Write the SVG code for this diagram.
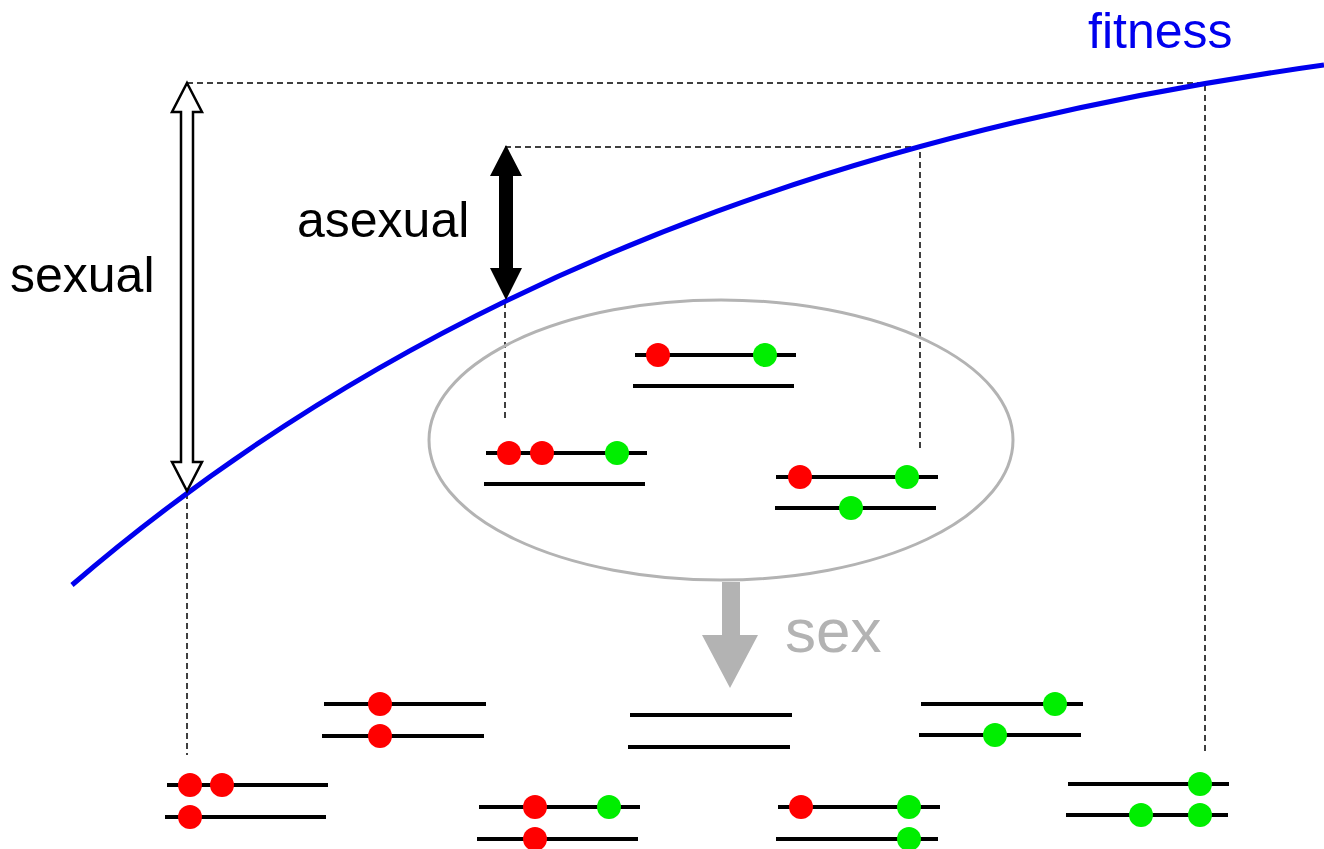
<svg xmlns="http://www.w3.org/2000/svg" width="1324" height="849" viewBox="0 0 1324 849">
<style>
.lbl{font-family:"Liberation Sans",Arial,sans-serif;font-size:50px}
.dash{fill:none;stroke:#000;stroke-width:1.5;stroke-dasharray:6 4}
.chr{stroke:#000;stroke-width:4;fill:none}
.r{fill:#ff0000}
.g{fill:#00ee00}
</style>
<rect width="1324" height="849" fill="#fff"/>
<g id="connectors">
<path class="dash" d="M187,83 H1205 V752"/>
<path class="dash" d="M187,493 V755"/>
<path class="dash" d="M505,147 H920 V450"/>
<path class="dash" d="M505,302 V420"/>
</g>
<g id="fitness-curve">
<path d="M72,585 C482,232 964,115 1324,65" fill="none" stroke="#0000ee" stroke-width="5"/>
<text class="lbl" x="1088" y="48" fill="#0000ee">fitness</text>
</g>
<g id="sexual-arrow">
<path d="M187,83 L202,112 L193,112 L193,462 L202,462 L187,491 L172,462 L181,462 L181,112 L172,112 Z" fill="#fff" stroke="#000" stroke-width="2.5" stroke-linejoin="miter"/>
<text class="lbl" x="10" y="292" fill="#000">sexual</text>
</g>
<g id="asexual-arrow">
<path d="M506,145 L522,176 L513,176 L513,268 L522,268 L506,300 L490,268 L499,268 L499,176 L490,176 Z" fill="#000"/>
<text class="lbl" x="297" y="237" fill="#000">asexual</text>
</g>
<g id="population">
<ellipse cx="721" cy="440" rx="292" ry="140" fill="none" stroke="#b3b3b3" stroke-width="3"/>
</g>
<g id="pair-a">
<line class="chr" x1="635" y1="355" x2="796" y2="355"/>
<line class="chr" x1="633" y1="386" x2="794" y2="386"/>
<circle class="r" cx="658" cy="355" r="12"/>
<circle class="g" cx="765" cy="355" r="12"/>
</g>
<g id="pair-b">
<line class="chr" x1="486" y1="453" x2="647" y2="453"/>
<line class="chr" x1="484" y1="484" x2="645" y2="484"/>
<circle class="r" cx="509" cy="453" r="12"/>
<circle class="r" cx="542" cy="453" r="12"/>
<circle class="g" cx="617" cy="453" r="12"/>
</g>
<g id="pair-c">
<line class="chr" x1="776" y1="477" x2="938" y2="477"/>
<line class="chr" x1="775" y1="508" x2="936" y2="508"/>
<circle class="r" cx="800" cy="477" r="12"/>
<circle class="g" cx="907" cy="477" r="12"/>
<circle class="g" cx="851" cy="508" r="12"/>
</g>
<g id="sex-arrow">
<path d="M722,582 H740 V635 H758 L730,688 L702,635 H722 Z" fill="#b3b3b3"/>
<text class="lbl" x="785" y="652" fill="#b3b3b3" style="font-size:62px">sex</text>
</g>
<g id="pair-d">
<line class="chr" x1="324" y1="704" x2="486" y2="704"/>
<line class="chr" x1="322" y1="736" x2="484" y2="736"/>
<circle class="r" cx="380" cy="704" r="12"/>
<circle class="r" cx="380" cy="736" r="12"/>
</g>
<g id="pair-e">
<line class="chr" x1="167" y1="785" x2="328" y2="785"/>
<line class="chr" x1="165" y1="817" x2="326" y2="817"/>
<circle class="r" cx="190" cy="785" r="12"/>
<circle class="r" cx="222" cy="785" r="12"/>
<circle class="r" cx="190" cy="817" r="12"/>
</g>
<g id="pair-f">
<line class="chr" x1="479" y1="807" x2="640" y2="807"/>
<line class="chr" x1="477" y1="839" x2="638" y2="839"/>
<circle class="r" cx="535" cy="807" r="12"/>
<circle class="g" cx="609" cy="807" r="12"/>
<circle class="r" cx="535" cy="839" r="12"/>
</g>
<g id="pair-g">
<line class="chr" x1="630" y1="715" x2="792" y2="715"/>
<line class="chr" x1="628" y1="747" x2="790" y2="747"/>
</g>
<g id="pair-h">
<line class="chr" x1="921" y1="704" x2="1083" y2="704"/>
<line class="chr" x1="919" y1="735" x2="1081" y2="735"/>
<circle class="g" cx="1055" cy="704" r="12"/>
<circle class="g" cx="995" cy="735" r="12"/>
</g>
<g id="pair-i">
<line class="chr" x1="778" y1="807" x2="940" y2="807"/>
<line class="chr" x1="776" y1="839" x2="938" y2="839"/>
<circle class="r" cx="801" cy="807" r="12"/>
<circle class="g" cx="909" cy="807" r="12"/>
<circle class="g" cx="909" cy="839" r="12"/>
</g>
<g id="pair-k">
<line class="chr" x1="1068" y1="784" x2="1229" y2="784"/>
<line class="chr" x1="1066" y1="815" x2="1228" y2="815"/>
<circle class="g" cx="1200" cy="784" r="12"/>
<circle class="g" cx="1141" cy="815" r="12"/>
<circle class="g" cx="1200" cy="815" r="12"/>
</g>
</svg>
